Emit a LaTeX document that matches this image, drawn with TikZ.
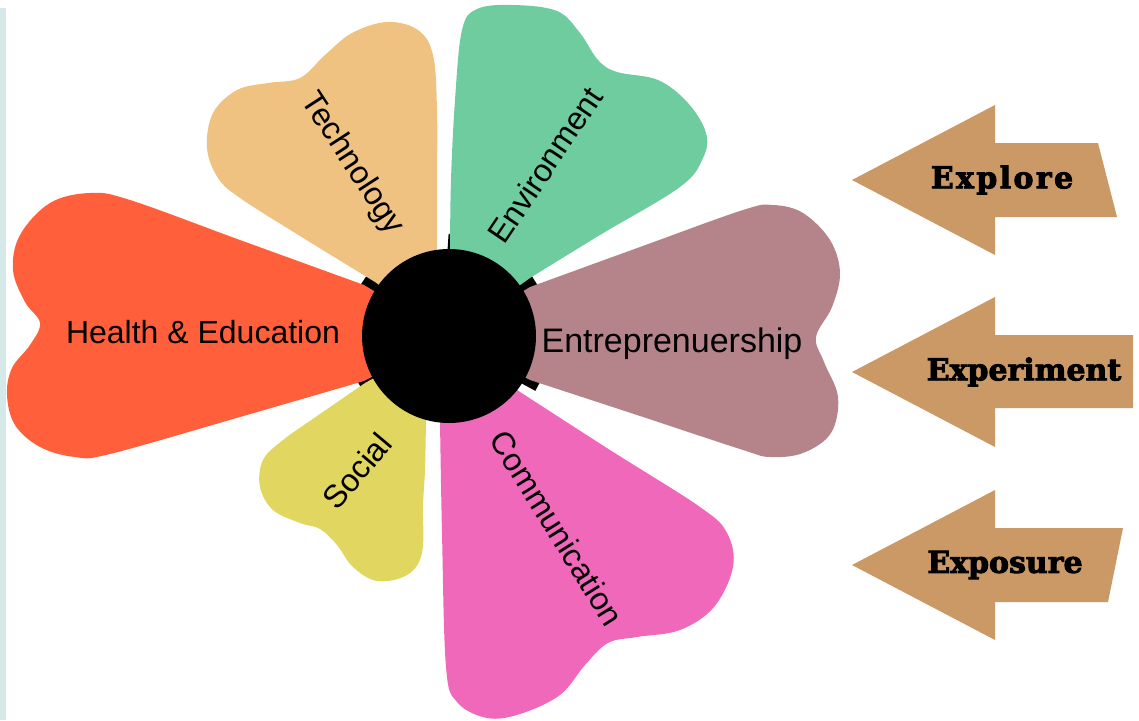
\documentclass[tikz,border=0pt]{standalone}
\usepackage{fontspec}
\setmainfont{Liberation Sans}
\newfontfamily\slabfont{DejaVu Serif Bold}[FakeBold=3]
\definecolor{sidebar}{HTML}{D5EAE8}
\definecolor{cRed}{HTML}{FF5F3B}
\definecolor{cTan}{HTML}{F0C282}
\definecolor{cGreen}{HTML}{6FCC9E}
\definecolor{cMauve}{HTML}{B5848A}
\definecolor{cPink}{HTML}{F068B9}
\definecolor{cYellow}{HTML}{E0D660}
\definecolor{cArrow}{HTML}{CA9966}
\tikzset{
  petal/.style={draw=none},
  petallabel/.style={font=\fontsize{32}{38}\selectfont, text=black, inner sep=0pt},
  tab/.style={draw=black, line width=14pt},
  bigarrow/.style={fill=cArrow, draw=none},
  arrowlabel/.style={font=\slabfont\fontsize{30}{34}\selectfont, text=black, inner sep=0pt},
}
\begin{document}
\begin{tikzpicture}[x=1pt,y=-1pt]
\useasboundingbox (0,0) rectangle (1139,720);
\fill[sidebar] (0,8) rectangle (6,720);
\coordinate (c) at (449,336);
% black tabs in the gaps
\foreach \a in {93.7,147.5,33.7,208.5,330.5}
  \draw[tab] (c) ++(\a:-80) -- ++(\a:-22);
% petals
\fill[petal, cRed] (c) -- plot[smooth, tension=0.6] coordinates {(364,285) (240,240) (130,200) (90,193) (50,203) (20,235) (13,270) (25,302) (40,323) (30,345) (12,368) (7,395) (15,425) (40,447) (75,457) (110,454) (240,417) (364,381)} -- cycle;
\fill[petal, cTan] (c) -- plot[smooth, tension=0.6] coordinates {(375,282) (300,236) (240,198) (218,178) (207,148) (213,113) (237,90) (268,83) (300,78) (325,55) (352,33) (387,22) (418,30) (433,55) (437,110) (437,190) (437,250)} -- cycle;
\fill[petal, cGreen] (c) -- plot[smooth, tension=0.6] coordinates {(530,278) (600,235) (680,187) (703,158) (706,133) (688,103) (658,80) (617,72) (598,60) (580,33) (557,11) (513,5) (477,9) (462,30) (455,100) (451,180) (450,249)} -- cycle;
\fill[petal, cMauve] (c) -- plot[smooth, tension=0.6] coordinates {(530,287) (640,247) (743,210) (773,205) (803,213) (830,240) (840,273) (832,307) (816,337) (824,362) (838,397) (831,433) (803,453) (770,457) (743,450) (640,416) (530,380)} -- cycle;
\fill[petal, cPink] (c) -- plot[smooth, tension=0.6] coordinates {(520,392) (610,450) (700,507) (727,533) (733,567) (714,607) (680,630) (637,637) (608,643) (585,665) (560,695) (520,714) (487,718) (457,702) (446,667) (442,533) (440,421)} -- cycle;
\fill[petal, cYellow] (c) -- plot[smooth, tension=0.6] coordinates {(426,419) (425,470) (423,505) (422,553) (407,575) (377,581) (353,567) (337,545) (320,529) (300,523) (273,510) (260,487) (263,460) (283,440) (320,414) (365,383)} -- cycle;
% centre
\fill[black] (c) circle[radius=87];
% labels
\node[petallabel, anchor=base] (health) at (203,343) {Health \& Education};
\node[petallabel, rotate=-57] (tech) at (352,164) {Technology};
\node[petallabel, rotate=56] (env) at (545,165) {Environment};
\node[petallabel, anchor=base, font=\fontsize{34}{40}\selectfont] (entre) at (672,352) {Entreprenuership};
\node[petallabel, rotate=-58] (comm) at (557,528) {Communication};
\node[petallabel, rotate=50] (social) at (357,471) {Social};
% arrows
\fill[bigarrow] (852,180) -- (995,105) -- (995,143) -- (1098,143) -- (1117,217) -- (995,217) -- (995,255) -- cycle;
\fill[bigarrow] (852,372) -- (995,297) -- (995,335) -- (1133,335) -- (1133,408) -- (995,408) -- (995,447) -- cycle;
\fill[bigarrow] (852,565) -- (995,490) -- (995,528) -- (1123,528) -- (1108,602) -- (995,602) -- (995,640) -- cycle;
\node[arrowlabel, font=\slabfont\addfontfeatures{LetterSpace=8}\fontsize{30}{34}\selectfont] (explore) at (1002,180) {Explore};
\node[arrowlabel] (experiment) at (1024,372) {Experiment};
\node[arrowlabel] (exposure) at (1005,565) {Exposure};
\end{tikzpicture}
\end{document}
